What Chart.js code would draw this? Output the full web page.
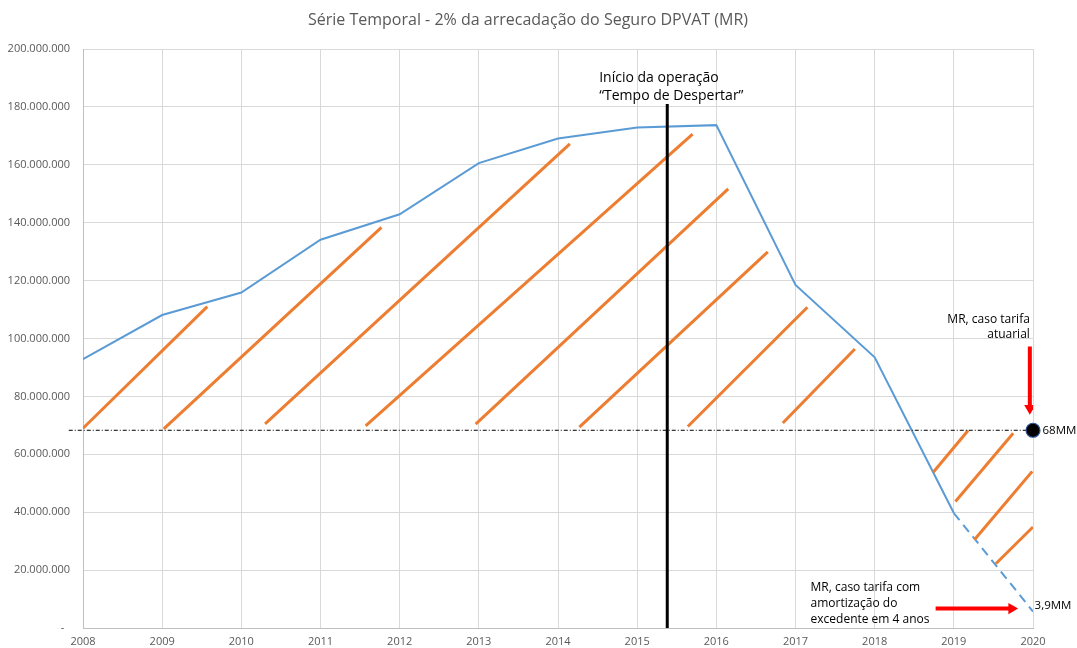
<!DOCTYPE html>
<html>
<head>
<meta charset="utf-8">
<script src="https://cdn.jsdelivr.net/npm/chart.js@4.4.1/dist/chart.umd.min.js"></script>
<style>
  html, body { margin: 0; padding: 0; background: #fff; }
  #wrap { width: 1077px; height: 648px; }
</style>
</head>
<body>
<div id="wrap"><canvas id="chart"></canvas></div>
<script>
// serie historica (MR)
const years = [2008, 2009, 2010, 2011, 2012, 2013, 2014, 2015, 2016, 2017, 2018, 2019];
const mrValues = [92.9e6, 108.1e6, 115.9e6, 134.1e6, 142.9e6, 160.6e6, 169.1e6, 172.9e6, 173.7e6, 118.5e6, 93.5e6, 39.7e6];

// projecao tracejada
const projYears = [2019, 2020];
const projValues = [39.7e6, 5.7e6];

// hachuras laranjas: inicio e fim de cada traço [ano, valor]
const hatchFrom = [
  [2008.00, 69.0e6], [2009.02, 68.8e6], [2010.30, 70.5e6], [2011.57, 69.8e6],
  [2012.96, 70.4e6], [2014.27, 69.4e6], [2015.64, 69.6e6], [2016.84, 70.8e6],
  [2018.74, 53.8e6], [2019.02, 43.7e6], [2019.26, 30.5e6], [2019.53, 22.2e6]
];
const hatchTo = [
  [2009.57, 111.0e6], [2011.77, 138.4e6], [2014.15, 167.2e6], [2015.70, 170.6e6],
  [2016.15, 151.7e6], [2016.65, 129.9e6], [2017.15, 110.8e6], [2017.75, 96.4e6],
  [2019.18, 68.2e6], [2019.75, 67.3e6], [2019.99, 54.1e6], [2020.00, 34.9e6]
];

const refLevel = 68.3e6;        // MR tarifa atuarial (68MM)
const refLineStart = 2007.82;
const operationYear = 2015.38;  // inicio da operacao
const operationTop = 181e6;

// setas vermelhas
const downArrowX = 2019.96;
const downArrowFrom = 97.2e6;
const downArrowHead = 75.9e6;
const rightArrowY = 6.7e6;
const rightArrowFrom = 2018.77;
const rightArrowHead = 2019.73;

const yTicks = [0, 20e6, 40e6, 60e6, 80e6, 100e6, 120e6, 140e6, 160e6, 180e6, 200e6];

const BLUE = '#5b9bd5';
const ORANGE = '#ed7d31';
const RED = '#ff0000';
const FONT = "'Open Sans', sans-serif";

function fmtBR(v) {
  if (v === 0) return '-  ';
  return String(Math.round(v)).replace(/\B(?=(\d{3})+(?!\d))/g, '.');
}

const datasets = [];

datasets.push({
  label: 'MR',
  data: years.map((x, i) => ({ x, y: mrValues[i] })),
  borderColor: BLUE, borderWidth: 2, pointRadius: 0, order: 5
});
datasets.push({
  label: 'Projeção',
  data: projYears.map((x, i) => ({ x, y: projValues[i] })),
  borderColor: BLUE, borderWidth: 2, borderDash: [9, 6], pointRadius: 0, order: 5
});

hatchFrom.forEach((p, i) => {
  datasets.push({
    label: 'hachura ' + (i + 1),
    data: [{ x: p[0], y: p[1] }, { x: hatchTo[i][0], y: hatchTo[i][1] }],
    borderColor: ORANGE, borderWidth: 3, pointRadius: 0, borderCapStyle: 'butt', order: 4
  });
});

datasets.push({
  label: 'nível atuarial',
  data: [{ x: refLineStart, y: refLevel }, { x: 2020, y: refLevel }],
  borderColor: '#000', borderWidth: 1, borderDash: [4, 2, 1, 2], pointRadius: 0, clip: false, order: 3
});

datasets.push({
  label: 'início operação',
  data: [{ x: operationYear, y: 0 }, { x: operationYear, y: operationTop }],
  borderColor: '#000', borderWidth: 3, pointRadius: 0, order: 2
});

// seta para baixo
datasets.push({
  label: 'seta atuarial',
  data: [{ x: downArrowX, y: downArrowFrom }, { x: downArrowX, y: downArrowHead }],
  borderColor: RED, borderWidth: 4, borderCapStyle: 'butt',
  pointRadius: [0, 6.5], pointStyle: 'triangle', rotation: 180,
  pointBackgroundColor: RED, pointBorderColor: RED, pointBorderWidth: 0, order: 1
});
// seta para a direita
datasets.push({
  label: 'seta amortização',
  data: [{ x: rightArrowFrom, y: rightArrowY }, { x: rightArrowHead, y: rightArrowY }],
  borderColor: RED, borderWidth: 4, borderCapStyle: 'butt',
  pointRadius: [0, 6.5], pointStyle: 'triangle', rotation: 90,
  pointBackgroundColor: RED, pointBorderColor: RED, pointBorderWidth: 0, order: 1
});

// marcador 68MM
datasets.push({
  label: '68MM',
  data: [{ x: 2020, y: refLevel }],
  showLine: false, pointRadius: 7, pointBackgroundColor: '#000',
  pointBorderColor: '#2f5597', pointBorderWidth: 1.2, clip: false, order: 0
});

// textos posicionados em coordenadas de dados
const notes = [
  { x: 2014.52, y: 190.1e6, lines: ['Início da operação', '“Tempo de Despertar”'], align: 'left', size: 14, lh: 18, color: '#000' },
  { x: 2019.96, y: 106.6e6, lines: ['MR, caso tarifa', 'atuarial'], align: 'right', size: 12, lh: 15, color: '#000' },
  { x: 2020.12, y: refLevel, lines: ['68MM'], align: 'left', size: 11.5, lh: 15, color: '#000' },
  { x: 2017.19, y: 13.8e6, lines: ['MR, caso tarifa com', 'amortização do', 'excedente em 4 anos'], align: 'left', size: 12, lh: 16, color: '#000' },
  { x: 2020.02, y: 7.6e6, lines: ['3,9MM'], align: 'left', size: 11.5, lh: 15, color: '#000' }
];

const notesPlugin = {
  id: 'notes',
  afterDraw(chart) {
    const { ctx, scales: { x, y } } = chart;
    ctx.save();
    ctx.textBaseline = 'middle';
    notes.forEach(n => {
      ctx.font = n.size + 'px ' + FONT;
      ctx.fillStyle = n.color;
      ctx.textAlign = n.align;
      const px = x.getPixelForValue(n.x);
      const py = y.getPixelForValue(n.y);
      n.lines.forEach((t, i) => ctx.fillText(t, px, py + i * n.lh));
    });
    // titulo
    ctx.font = '16px ' + FONT;
    ctx.fillStyle = '#595959';
    ctx.textAlign = 'center';
    ctx.fillText('Série Temporal - 2% da arrecadação do Seguro DPVAT (MR)', 528, 20);
    ctx.restore();
  }
};

new Chart(document.getElementById('chart'), {
  type: 'line',
  data: { datasets },
  options: {
    responsive: true,
    maintainAspectRatio: false,
    animation: false,
    layout: { padding: { top: 49, right: 44, left: 0, bottom: 0 } },
    plugins: { legend: { display: false }, tooltip: { enabled: false } },
    elements: { line: { tension: 0 } },
    scales: {
      x: {
        type: 'linear', min: 2008, max: 2020,
        afterBuildTicks: s => { s.ticks = years.concat([2020]).map(v => ({ value: v })); },
        afterFit: s => { s.height = 20; },
        grid: { color: '#d9d9d9', drawTicks: false },
        border: { color: '#bfbfbf' },
        ticks: { padding: 7, color: '#595959', font: { family: FONT, size: 11 }, callback: v => String(v), maxRotation: 0 }
      },
      y: {
        min: 0, max: 200e6,
        afterBuildTicks: s => { s.ticks = yTicks.map(v => ({ value: v })); },
        afterFit: s => { s.width = 83; },
        grid: { color: '#d9d9d9', drawTicks: false },
        border: { color: '#bfbfbf' },
        ticks: { padding: 13, color: '#595959', font: { family: FONT, size: 11 }, callback: v => fmtBR(v) }
      }
    }
  },
  plugins: [notesPlugin]
});
</script>
</body>
</html>
